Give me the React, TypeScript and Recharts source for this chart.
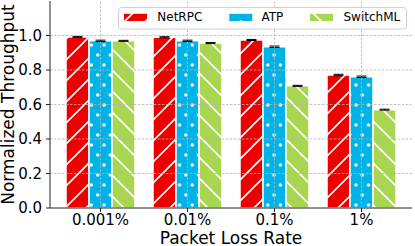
import React from 'react';
import { BarChart, Bar, XAxis, YAxis, ErrorBar, Legend, Label, ReferenceLine } from 'recharts';

const categories = ['0.001%', '0.01%', '0.1%', '1%'];
const netrpc = [0.992, 0.990, 0.974, 0.771];
const atp = [0.969, 0.969, 0.935, 0.761];
const switchml = [0.969, 0.956, 0.708, 0.570];
const netrpcErr = [0.003, 0.003, 0.003, 0.004];
const atpErr = [0.004, 0.004, 0.004, 0.004];
const switchmlErr = [0.003, 0.003, 0.003, 0.003];
const yTicks = [0, 0.2, 0.4, 0.6, 0.8, 1.0];
const seriesNames = ['NetRPC', 'ATP', 'SwitchML'];

const RED = '#ee0000';
const BLUE = '#00b3e6';
const GREEN = '#a8d650';
const FONT = 'DejaVu Sans';

const data = categories.map((c, i) => ({
  cat: c,
  netrpc: netrpc[i],
  atp: atp[i],
  switchml: switchml[i],
  netrpcErr: netrpcErr[i],
  atpErr: atpErr[i],
  switchmlErr: switchmlErr[i],
}));

const S = 21;

function Patterns({ prefix }: { prefix: string }) {
  return (
    <defs>
      <pattern id={prefix + 'red'} patternUnits="userSpaceOnUse" width={S} height={S}>
        <rect width={S} height={S} fill={RED} />
        <path d={`M0,${S} L${S},0 M-2,2 L2,-2 M${S - 2},${S + 2} L${S + 2},${S - 2}`} stroke="#fff" strokeWidth={1.6} />
      </pattern>
      <pattern id={prefix + 'green'} patternUnits="userSpaceOnUse" width={S} height={S}>
        <rect width={S} height={S} fill={GREEN} />
        <path d={`M0,0 L${S},${S} M-2,${S - 2} L2,${S + 2} M${S - 2},-2 L${S + 2},2`} stroke="#fff" strokeWidth={1.6} />
      </pattern>
      <pattern id={prefix + 'blue'} patternUnits="userSpaceOnUse" width={12.6} height={20}>
        <rect width={12.6} height={20} fill={BLUE} />
        <circle cx={3.2} cy={5} r={1.7} fill="#fff" />
        <circle cx={9.5} cy={15} r={1.7} fill="#fff" />
      </pattern>
    </defs>
  );
}

function LegendBox() {
  const fills = ['lgred', 'lgblue', 'lggreen'];
  const sw = [6, 111.3, 192];
  const tx = [39.3, 143.5, 225.5];
  return (
    <svg width={289} height={23} style={{ display: 'block' }}>
      <Patterns prefix="lg" />
      <rect x={0.5} y={0.5} width={288} height={21.5} rx={3} fill="#fff" fillOpacity={0.9} stroke="#d0d0d0" />
      {seriesNames.map((n, i) => (
        <g key={n}>
          <rect x={sw[i]} y={6.8} width={23} height={7.2} fill={`url(#${fills[i]})`} />
          <text x={tx[i]} y={14.3} fontSize={12} fontFamily={FONT} fill="#000">{n}</text>
        </g>
      ))}
    </svg>
  );
}

const gridStyle = { stroke: '#b4b4b4', strokeWidth: 0.8, strokeDasharray: '2.5 1.5' };

export default function App() {
  return (
    <div style={{ position: 'absolute', left: 0, top: 0, fontFamily: FONT }}>
      <BarChart
        width={415}
        height={246}
        data={data}
        margin={{ top: 1, right: 3, bottom: 0, left: 0 }}
        barCategoryGap={9}
        barGap={0}
      >
        <Patterns prefix="ch" />
        <XAxis
          dataKey="cat"
          height={38}
          padding={{ left: 7, right: 7 }}
          tickSize={4}
          tickMargin={2.5}
          tick={{ fontSize: 15, fill: '#000', fontFamily: FONT }}
          axisLine={{ stroke: '#222' }}
          tickLine={{ stroke: '#222' }}
        >
          <Label value="Packet Loss Rate" position="insideBottom" offset={2.5} style={{ fontSize: 17, fill: '#000', fontFamily: FONT }} />
        </XAxis>
        <XAxis
          xAxisId="top"
          orientation="top"
          dataKey="cat"
          height={0}
          tick={false}
          tickLine={false}
          axisLine={{ stroke: '#222' }}
        />
        <YAxis
          width={50}
          domain={[0, 1.2]}
          ticks={yTicks}
          allowDataOverflow
          tickFormatter={(v: number) => v.toFixed(1)}
          tickSize={4}
          tickMargin={4}
          tick={{ fontSize: 15, fill: '#000', fontFamily: FONT }}
          axisLine={{ stroke: '#222' }}
          tickLine={{ stroke: '#222' }}
        >
          <Label
            value="Normalized Throughput"
            angle={-90}
            position="insideLeft"
            offset={8}
            style={{ fontSize: 17, fill: '#000', fontFamily: FONT, textAnchor: 'middle' }}
          />
        </YAxis>
        <YAxis
          yAxisId="right"
          orientation="right"
          width={0}
          tick={false}
          tickLine={false}
          axisLine={{ stroke: '#222' }}
        />
        <Bar dataKey="netrpc" name="NetRPC" fill="url(#chred)" stroke="#fff" strokeWidth={1.5} isAnimationActive={false}>
          <ErrorBar dataKey="netrpcErr" width={5} stroke="#000" strokeWidth={1} />
        </Bar>
        <Bar dataKey="atp" name="ATP" fill="url(#chblue)" stroke="#fff" strokeWidth={1.5} isAnimationActive={false}>
          <ErrorBar dataKey="atpErr" width={5} stroke="#000" strokeWidth={1} />
        </Bar>
        <Bar dataKey="switchml" name="SwitchML" fill="url(#chgreen)" stroke="#fff" strokeWidth={1.5} isAnimationActive={false}>
          <ErrorBar dataKey="switchmlErr" width={5} stroke="#000" strokeWidth={1} />
        </Bar>
        {yTicks.filter((t) => t > 0).map((t) => (
          <ReferenceLine key={'y' + t} y={t} ifOverflow="hidden" {...gridStyle} />
        ))}
        {categories.map((c) => (
          <ReferenceLine key={'x' + c} x={c} ifOverflow="hidden" {...gridStyle} />
        ))}
        <Legend
          layout="vertical"
          align="center"
          verticalAlign="middle"
          wrapperStyle={{ left: 118, top: 7, width: 289, height: 23 }}
          content={() => <LegendBox />}
        />
      </BarChart>
    </div>
  );
}
